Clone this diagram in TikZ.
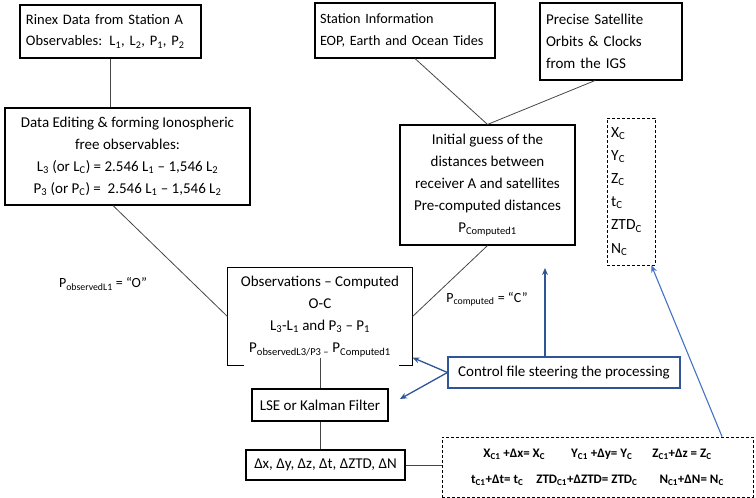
\documentclass[tikz,border=0pt]{standalone}
\usepackage{fontspec}
\setmainfont{Carlito}
\usetikzlibrary{arrows.meta}
\definecolor{ctrlblue}{RGB}{47,85,151}
\definecolor{lightblue}{RGB}{68,114,196}
\definecolor{linegray}{RGB}{70,70,70}
\newcommand{\sbs}[1]{\textsubscript{#1}}
\begin{document}
\begin{tikzpicture}[x=1pt,y=-1pt,
  box/.style={draw=black, line width=1.1pt, rectangle, inner sep=0pt, align=center,
    font=\fontsize{15}{22}\selectfont},
  lbox/.style={box, align=left, inner xsep=6pt},
  dbox/.style={draw=black, line width=0.9pt, dash pattern=on 3pt off 2pt, rectangle, inner sep=0pt},
  conn/.style={draw=linegray, line width=0.8pt},
  barrow/.style={draw=ctrlblue, line width=1.3pt, -{Stealth[length=7pt,width=6pt]}},
  lbl/.style={font=\fontsize{14}{16}\selectfont, inner sep=0pt}]
\useasboundingbox (0,0) rectangle (756,498);

\node[lbox, minimum height=53pt, text width=169pt, font=\fontsize{14.5}{21}\selectfont] (rin) at (110.5,31.5)
  {Rinex Data from Station A\\Observables: L\sbs{1}, L\sbs{2}, P\sbs{1}, P\sbs{2}};
\node[lbox, minimum height=55pt, text width=170pt, inner xsep=5pt, font=\fontsize{14.2}{22}\selectfont] (st) at (405,30.5)
  {Station Information\\EOP, Earth and Ocean Tides};
\node[lbox, minimum height=77pt, text width=130pt] (ps) at (611,41.5)
  {Precise Satellite\\Orbits \& Clocks\\from the IGS};
\node[box, minimum width=245pt, minimum height=97pt] (de) at (127.5,156.5)
  {Data Editing \& forming Ionospheric\\free observables:\\
   L\sbs{3} (or L\sbs{C}) = 2.546 L\sbs{1} -- 1,546 L\sbs{2}\\
   P\sbs{3} (or P\sbs{C}) = \ 2.546 L\sbs{1} -- 1,546 L\sbs{2}};
\node[box, minimum width=175pt, minimum height=120pt] (ig) at (487.5,185)
  {Initial guess of the\\distances between\\receiver A and satellites\\Pre-computed distances\\P\sbs{Computed1}};
\node[dbox, minimum width=48pt, minimum height=147pt] (xc) at (631,191.5) {};
\node[font=\fontsize{15.5}{23.2}\selectfont, align=left, anchor=north west, inner sep=0pt] (xct) at (611,127)
  {X\sbs{C}\\Y\sbs{C}\\Z\sbs{C}\\t\sbs{C}\\ZTD\sbs{C}\\N\sbs{C}};

\node[box, draw=none, minimum width=184pt, minimum height=97pt] (obs) at (320,316.5)
  {Observations -- Computed\\O-C\\L\sbs{3}-L\sbs{1} and P\sbs{3} -- P\sbs{1}\\
   P\sbs{observedL3/P3 --} P\sbs{Computed1}};
\draw[line width=1.1pt] ([xshift=17pt]obs.south west) -- (obs.south west) -- (obs.north west)
  -- (obs.north east) -- (obs.south east) -- ([xshift=-14pt]obs.south east);

\node[box, draw=ctrlblue, minimum width=232pt, minimum height=31pt] (ctl) at (564,372.5)
  {Control file steering the processing};
\node[box, minimum width=136pt, minimum height=32pt] (lse) at (320,405) {LSE or Kalman Filter};
\node[box, minimum width=159pt, minimum height=30pt] (dl) at (325.5,465)
  {Δx, Δy, Δz, Δt, ΔZTD, ΔN};
\node[dbox, minimum width=311pt, minimum height=60pt, align=center,
  font=\bfseries\fontsize{13}{26}\selectfont] (bd) at (597.5,467)
  {X\sbs{C1} +Δx= X\sbs{C}\hspace{26pt}Y\sbs{C1} +Δy= Y\sbs{C}\hspace{20pt}Z\sbs{C1}+Δz = Z\sbs{C}\\
   t\sbs{C1}+Δt= t\sbs{C}\hspace{13pt}ZTD\sbs{C1}+ΔZTD= ZTD\sbs{C}\hspace{22pt}N\sbs{C1}+ΔN= N\sbs{C}};

\node[lbl] (lo) at (103,284) {P\sbs{observedL1} = “O”};
\node[lbl] (lc) at (487,299) {P\sbs{computed} = “C”};

\draw[conn] (rin.south) -- (rin.south |- de.north);
\draw[conn] ([xshift=10pt]st.south) -- (ig.north);
\draw[conn] ([xshift=-16pt]ps.south) -- (ig.north);
\draw[conn] ([xshift=-14.5pt]de.south) -- (obs.west);
\draw[conn] (ig.south) -- (obs.east);
\draw[conn] ([yshift=8pt]obs.south) -- (lse.north);
\draw[conn] (lse.south) -- (lse.south |- dl.north);
\draw[conn] (dl.east) -- (dl.east -| bd.west);

\coordinate (up) at (545,268);
\coordinate (lsetip) at (400,399);
\draw[barrow] (ctl.west) -- ([yshift=8pt]obs.south east);
\draw[barrow] (ctl.west) -- (lsetip);
\draw[barrow] (ctl.north -| up) -- (up);
\draw[draw=lightblue, line width=1.1pt, -{Stealth[length=7pt,width=6pt]}] ([xshift=124.5pt]bd.north) -- ([xshift=-4pt]xc.south east);
\end{tikzpicture}
\end{document}
